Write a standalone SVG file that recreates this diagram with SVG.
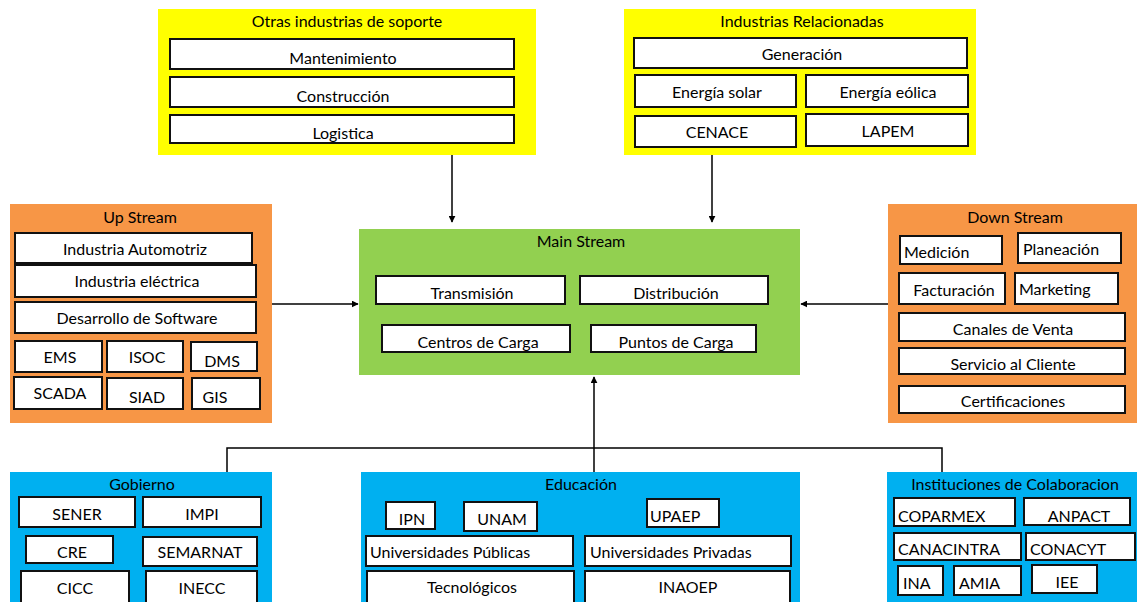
<svg xmlns="http://www.w3.org/2000/svg" width="1137" height="602" viewBox="0 0 1137 602">
<style>
text{font-family:Lato,"Open Sans","Liberation Sans",sans-serif;font-size:16px;fill:#000}
.c{text-anchor:middle}
.b{fill:#fff;stroke:#111;stroke-width:2}
.y{fill:#ffff00}
.o{fill:#f79646}
.g{fill:#92d050}
.l{fill:#00b0f0}
.ln{fill:none;stroke:#000;stroke-width:1.5}
</style>
<defs>
<marker id="ah" viewBox="0 0 10 10" refX="9" refY="5" markerWidth="7" markerHeight="7" orient="auto" markerUnits="userSpaceOnUse"><path d="M0,0 L10,5 L0,10 z" fill="#000"/></marker>
</defs>
<rect width="1137" height="602" fill="#fff"/>

<g id="connectors">
<path class="ln" d="M452,155 V222" marker-end="url(#ah)"/>
<path class="ln" d="M712,155 V222" marker-end="url(#ah)"/>
<path class="ln" d="M272,304 H358" marker-end="url(#ah)"/>
<path class="ln" d="M888,304 H801" marker-end="url(#ah)"/>
<path class="ln" d="M227,472 V448 H942 V472"/>
<path class="ln" d="M594,472 V377" marker-end="url(#ah)"/>
</g>

<g id="otras">
<rect class="y" x="158" y="9" width="378" height="146"/>
<text class="c" x="347" y="27">Otras industrias de soporte</text>
<rect class="b" x="170" y="39" width="344" height="30"/>
<text class="c" x="343" y="64">Mantenimiento</text>
<rect class="b" x="170" y="77" width="344" height="30"/>
<text class="c" x="343" y="102">Construcción</text>
<rect class="b" x="170" y="115" width="344" height="28"/>
<text class="c" x="343" y="139">Logistica</text>
</g>

<g id="relacionadas">
<rect class="y" x="624" y="9" width="352" height="146"/>
<text class="c" x="802" y="27">Industrias Relacionadas</text>
<rect class="b" x="634" y="38" width="333" height="30"/>
<text class="c" x="802" y="60">Generación</text>
<rect class="b" x="635" y="75" width="161" height="32"/>
<text class="c" x="717" y="98">Energía solar</text>
<rect class="b" x="806" y="75" width="162" height="32"/>
<text class="c" x="888" y="98">Energía eólica</text>
<rect class="b" x="635" y="116" width="161" height="31"/>
<text class="c" x="717" y="138">CENACE</text>
<rect class="b" x="806" y="114" width="162" height="32"/>
<text class="c" x="888" y="137">LAPEM</text>
</g>

<g id="upstream">
<rect class="o" x="10" y="204" width="262" height="219"/>
<text class="c" x="140" y="223">Up Stream</text>
<rect class="b" x="15" y="233" width="237" height="30"/>
<text class="c" x="135" y="255">Industria Automotriz</text>
<rect class="b" x="15" y="265" width="241" height="32"/>
<text class="c" x="137" y="287">Industria eléctrica</text>
<rect class="b" x="15" y="302" width="241" height="31"/>
<text class="c" x="137" y="324">Desarrollo de Software</text>
<rect class="b" x="15" y="341" width="87" height="31"/>
<text class="c" x="60" y="363">EMS</text>
<rect class="b" x="107" y="341" width="76" height="31"/>
<text class="c" x="147" y="363">ISOC</text>
<rect class="b" x="191" y="342" width="66" height="29"/>
<text class="c" x="222" y="367">DMS</text>
<rect class="b" x="14" y="377" width="88" height="32"/>
<text class="c" x="60" y="399">SCADA</text>
<rect class="b" x="107" y="378" width="76" height="31"/>
<text class="c" x="147" y="403">SIAD</text>
<rect class="b" x="192" y="378" width="68" height="31"/>
<text class="c" x="215" y="403">GIS</text>
</g>

<g id="downstream">
<rect class="o" x="888" y="204" width="249" height="219"/>
<text class="c" x="1015" y="223">Down Stream</text>
<rect class="b" x="900" y="236" width="102" height="28"/>
<text x="904" y="258">Medición</text>
<rect class="b" x="1018" y="233" width="103" height="30"/>
<text x="1023" y="255">Planeación</text>
<rect class="b" x="899" y="273" width="106" height="31"/>
<text class="c" x="954" y="296">Facturación</text>
<rect class="b" x="1015" y="273" width="103" height="31"/>
<text x="1019" y="295">Marketing</text>
<rect class="b" x="899" y="313" width="226" height="28"/>
<text class="c" x="1013" y="335">Canales de Venta</text>
<rect class="b" x="899" y="348" width="226" height="26"/>
<text class="c" x="1013" y="370">Servicio al Cliente</text>
<rect class="b" x="899" y="386" width="226" height="27"/>
<text class="c" x="1013" y="407">Certificaciones</text>
</g>

<g id="mainstream">
<rect class="g" x="359" y="229" width="441" height="146"/>
<text class="c" x="581" y="247">Main Stream</text>
<rect class="b" x="376" y="276" width="189" height="28"/>
<text class="c" x="472" y="299">Transmisión</text>
<rect class="b" x="580" y="276" width="188" height="28"/>
<text class="c" x="676" y="299">Distribución</text>
<rect class="b" x="382" y="325" width="188" height="27"/>
<text class="c" x="478" y="348">Centros de Carga</text>
<rect class="b" x="591" y="325" width="165" height="27"/>
<text class="c" x="676" y="348">Puntos de Carga</text>
</g>

<g id="gobierno">
<rect class="l" x="10" y="472" width="262" height="130"/>
<text class="c" x="142" y="490">Gobierno</text>
<rect class="b" x="19" y="497" width="116" height="30"/>
<text class="c" x="77" y="520">SENER</text>
<rect class="b" x="143" y="497" width="118" height="30"/>
<text class="c" x="202" y="520">IMPI</text>
<rect class="b" x="26" y="536" width="87" height="27"/>
<text class="c" x="72" y="558">CRE</text>
<rect class="b" x="143" y="537" width="114" height="29"/>
<text class="c" x="200" y="558">SEMARNAT</text>
<rect class="b" x="21" y="571" width="108" height="34"/>
<text class="c" x="75" y="594">CICC</text>
<rect class="b" x="146" y="571" width="111" height="34"/>
<text class="c" x="202" y="594">INECC</text>
</g>

<g id="educacion">
<rect class="l" x="361" y="472" width="439" height="130"/>
<text class="c" x="581" y="490">Educación</text>
<rect class="b" x="386" y="502" width="49" height="27"/>
<text class="c" x="412" y="525">IPN</text>
<rect class="b" x="464" y="502" width="73" height="29"/>
<text class="c" x="502" y="525">UNAM</text>
<rect class="b" x="647" y="499" width="72" height="28"/>
<text x="650" y="522">UPAEP</text>
<rect class="b" x="366" y="536" width="207" height="30"/>
<text x="370" y="558">Universidades Públicas</text>
<rect class="b" x="585" y="536" width="206" height="30"/>
<text x="590" y="558">Universidades Privadas</text>
<rect class="b" x="367" y="571" width="207" height="34"/>
<text class="c" x="472" y="593">Tecnológicos</text>
<rect class="b" x="585" y="571" width="205" height="34"/>
<text class="c" x="688" y="593">INAOEP</text>
</g>

<g id="instituciones">
<rect class="l" x="887" y="472" width="250" height="130"/>
<text class="c" x="1015" y="490">Instituciones de Colaboracion</text>
<rect class="b" x="894" y="498" width="121" height="28"/>
<text x="898" y="522">COPARMEX</text>
<rect class="b" x="1024" y="498" width="106" height="27"/>
<text class="c" x="1079" y="522">ANPACT</text>
<rect class="b" x="894" y="533" width="127" height="27"/>
<text x="898" y="555">CANACINTRA</text>
<rect class="b" x="1026" y="533" width="109" height="27"/>
<text x="1030" y="555">CONACYT</text>
<rect class="b" x="898" y="566" width="45" height="29"/>
<text x="903" y="589">INA</text>
<rect class="b" x="954" y="566" width="67" height="29"/>
<text x="959" y="589">AMIA</text>
<rect class="b" x="1032" y="565" width="65" height="28"/>
<text class="c" x="1067" y="588">IEE</text>
</g>
</svg>
